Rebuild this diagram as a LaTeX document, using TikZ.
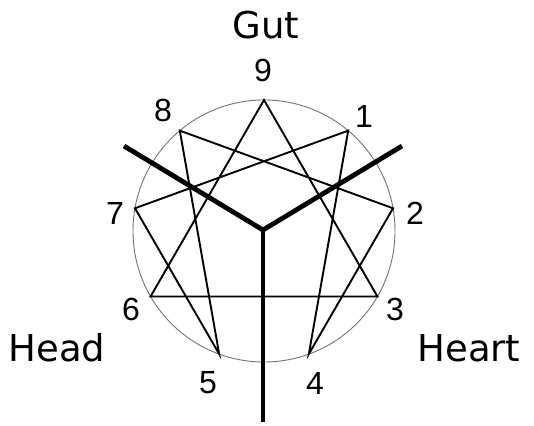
\documentclass[tikz,border=0pt]{standalone}
\usepackage{fontspec}
\setmainfont{DejaVu Sans}
\newfontfamily\digitfont{Liberation Sans}
\begin{document}
\begin{tikzpicture}[x=1pt,y=-1pt,
  word/.style={font=\fontsize{37}{40}\selectfont, inner sep=0pt},
  digit/.style={font=\digitfont\fontsize{32}{36}\selectfont, inner sep=0pt},
  ring/.style={draw=black!55, line width=0.9pt},
  figline/.style={line width=1.9pt, line join=miter},
  center/.style={line width=4.8pt}]
\useasboundingbox (0,0) rectangle (534,425);
\coordinate (c) at (264,231);
\draw[ring] (c) circle[radius=131];
\foreach \n/\a in {9/90,1/50,2/10,3/-30,4/-70,5/-110,6/-150,7/170,8/130}
  \coordinate (p\n) at ({264+131*cos(\a)},{231-131*sin(\a)});
% triangle
\draw[figline] (p9) -- (p3) -- (p6) -- cycle;
% hexad
\draw[figline] (p1) -- (p4) -- (p2) -- (p8) -- (p5) -- (p7) -- cycle;
% center lines
\coordinate (o) at (263,230);
\coordinate (eL) at (124,146);
\coordinate (eR) at (402,146);
\coordinate (eB) at (263,422);
\draw[center] (eL) -- (o) -- (eR);
\draw[center] (o) -- (eB);
% digits
\node[digit] (n9) at (263,70) {9};
\node[digit] (n1) at (364,116) {1};
\node[digit] (n2) at (415,213) {2};
\node[digit] (n3) at (395,309) {3};
\node[digit] (n4) at (315,383) {4};
\node[digit] (n5) at (208,383) {5};
\node[digit] (n6) at (131,309) {6};
\node[digit] (n7) at (115,213) {7};
\node[digit] (n8) at (163,110) {8};
% words
\node[word] (gut) at (266,25) {Gut};
\node[word] (head) at (57,348) {Head};
\node[word] (heart) at (469,348) {Heart};
\end{tikzpicture}
\end{document}
